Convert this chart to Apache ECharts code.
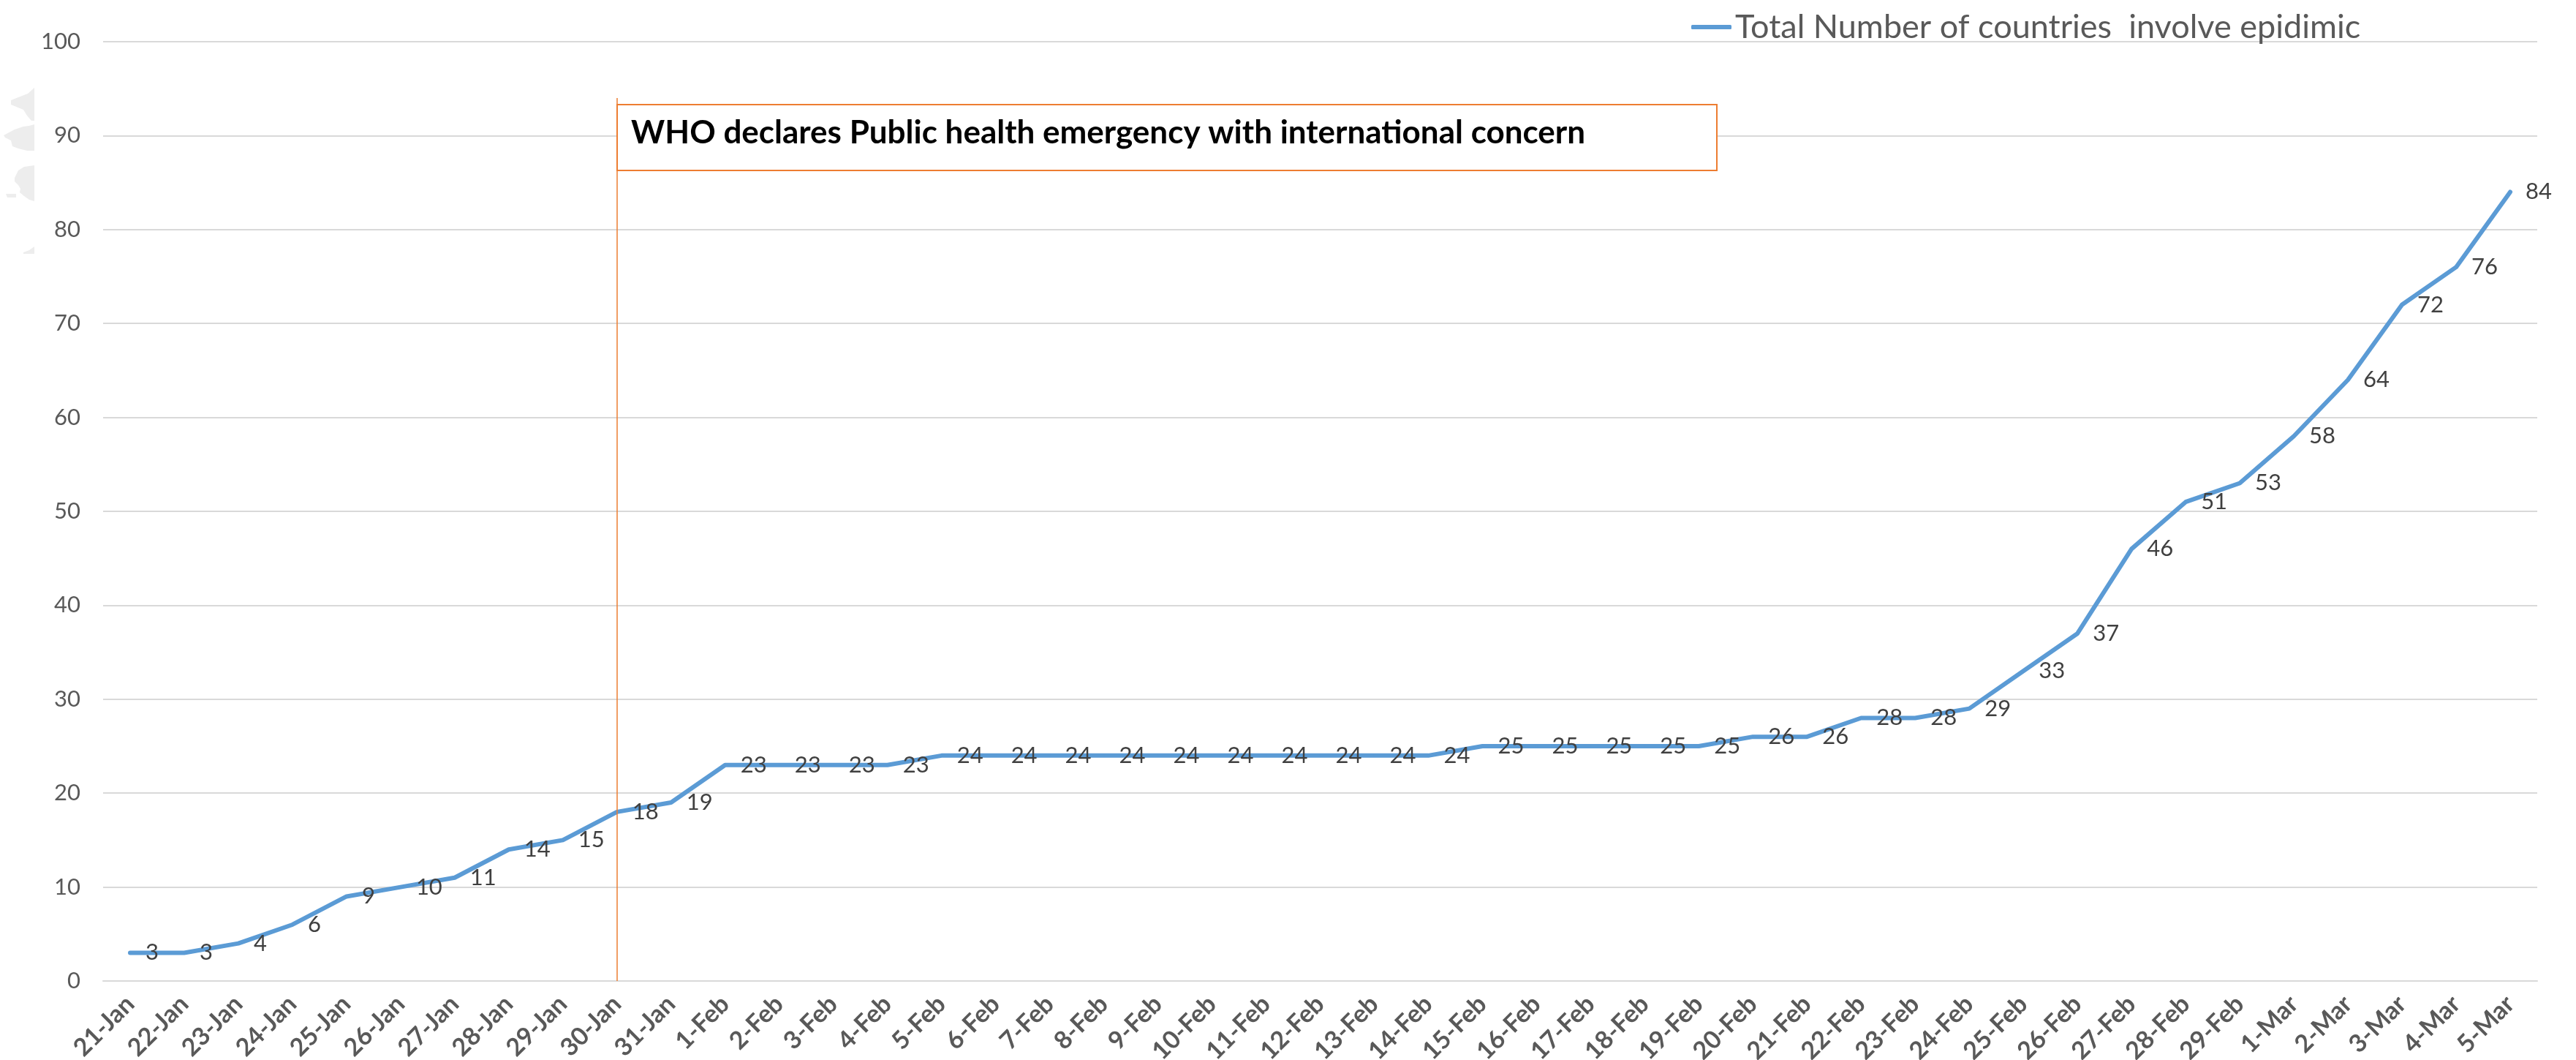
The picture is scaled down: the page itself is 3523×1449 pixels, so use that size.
<!DOCTYPE html>
<html>
<head>
<meta charset="utf-8">
<script src="https://cdn.jsdelivr.net/npm/echarts@6/dist/echarts.min.js"></script>
<style>html,body{margin:0;padding:0;background:#fff;}#c{width:3523px;height:1449px;}</style>
</head>
<body>
<div id="c"></div>
<script>
const categories = ['21-Jan','22-Jan','23-Jan','24-Jan','25-Jan','26-Jan','27-Jan','28-Jan','29-Jan','30-Jan','31-Jan',
  '1-Feb','2-Feb','3-Feb','4-Feb','5-Feb','6-Feb','7-Feb','8-Feb','9-Feb','10-Feb','11-Feb','12-Feb','13-Feb','14-Feb',
  '15-Feb','16-Feb','17-Feb','18-Feb','19-Feb','20-Feb','21-Feb','22-Feb','23-Feb','24-Feb','25-Feb','26-Feb','27-Feb','28-Feb','29-Feb',
  '1-Mar','2-Mar','3-Mar','4-Mar','5-Mar'];
const countries = [3,3,4,6,9,10,11,14,15,18,19,
  23,23,23,23,24,24,24,24,24,24,24,24,24,24,
  25,25,25,25,25,26,26,28,28,29,33,37,46,51,53,
  58,64,72,76,84];
const seriesName = 'Total Number of countries  involve epidimic';
const annotationText = 'WHO declares Public health emergency with international concern';
const annotationDate = '30-Jan';
const annotationTop = 94;
const yTicks = {min: 0, max: 100, interval: 10};

const chart = echarts.init(document.getElementById('c'), null, {renderer: 'canvas'});
const FONT = 'Lato';
chart.setOption({
  animation: false,
  backgroundColor: '#ffffff',
  grid: {left: 141, right: 53, top: 57, bottom: 108, containLabel: false, outerBoundsMode: 'none'},
  legend: {
    show: true,
    left: 2313, top: 12, padding: 0,
    icon: 'roundRect', itemWidth: 55, itemHeight: 6, itemGap: 10,
    itemStyle: {color: '#5B9BD5', opacity: 1},
    textStyle: {fontFamily: FONT, fontSize: 45, color: '#595959', lineHeight: 50, padding: [0,0,0,0]},
    data: [seriesName]
  },
  xAxis: {
    type: 'category',
    data: categories,
    boundaryGap: true,
    axisTick: {show: false},
    axisLine: {lineStyle: {color: '#D9D9D9', width: 2}},
    axisLabel: {interval: 0, rotate: 45, margin: 26, fontFamily: FONT, fontWeight: 'bold', fontSize: 34, color: '#595959'}
  },
  yAxis: {
    type: 'value',
    min: yTicks.min, max: yTicks.max, interval: yTicks.interval,
    axisLine: {show: false},
    axisTick: {show: false},
    splitLine: {lineStyle: {color: '#D9D9D9', width: 2}},
    axisLabel: {margin: 31, fontFamily: FONT, fontSize: 31, color: '#595959'}
  },
  series: [{
    name: seriesName,
    type: 'line',
    data: countries,
    symbol: 'circle',
    symbolSize: 2,
    showSymbol: true,
    showAllSymbol: true,
    lineStyle: {color: '#5B9BD5', width: 6, cap: 'round', join: 'round'},
    itemStyle: {color: '#5B9BD5'},
    label: {show: true, position: 'right', distance: 20, fontFamily: FONT, fontSize: 31, color: '#404040'},
    labelLayout: {hideOverlap: false},
    emphasis: {disabled: true},
    markLine: {
      silent: true,
      symbol: ['none', 'none'],
      label: {show: false},
      lineStyle: {color: '#ED7D31', width: 1.5, type: 'solid'},
      data: [[{coord: [annotationDate, 0]}, {coord: [annotationDate, annotationTop]}]]
    }
  }],
  graphic: [
    {type: 'polygon', z: 0, silent: true, style: {fill: '#EDEDED'}, shape: {points: [[47,120],[38,128],[25,133],[15,137],[15,143],[32,150],[37,158],[43,165],[47,165]]}},
    {type: 'polygon', z: 0, silent: true, style: {fill: '#EDEDED'}, shape: {points: [[47,170],[40,172],[32,173],[20,177],[5,185],[7,188],[15,192],[17,200],[25,203],[37,206],[47,206]]}},
    {type: 'polygon', z: 0, silent: true, style: {fill: '#EDEDED'}, shape: {points: [[47,226],[33,228],[25,233],[20,243],[20,248],[25,253],[28,258],[27,263],[33,268],[40,273],[47,275]]}},
    {type: 'polygon', z: 0, silent: true, style: {fill: '#EDEDED'}, shape: {points: [[8,265],[22,265],[22,270],[10,270]]}},
    {type: 'polygon', z: 0, silent: true, style: {fill: '#EDEDED'}, shape: {points: [[47,337],[40,342],[32,345],[32,347],[47,347]]}},
    {type: 'rect', z: 50, left: 843, top: 142, shape: {width: 1504, height: 90}, style: {fill: '#ffffff', stroke: '#ED7D31', lineWidth: 2}},
    {type: 'text', z: 51, left: 863, top: 160, style: {text: annotationText, fontFamily: FONT, fontWeight: 'bold', fontSize: 44, fill: '#000000'}}
  ]
});
</script>
</body>
</html>
